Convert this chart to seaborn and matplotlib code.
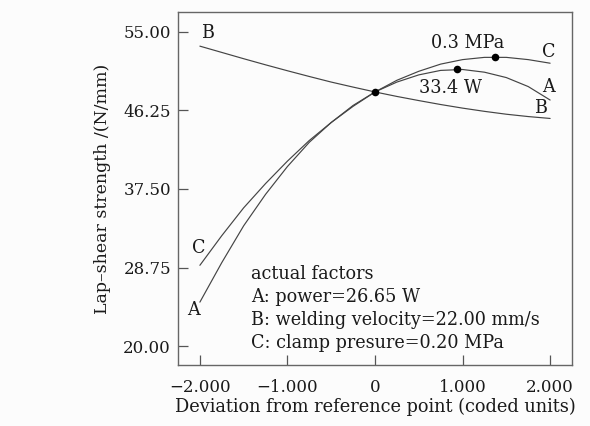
import numpy as np
import pandas as pd
import matplotlib
matplotlib.use("Agg")
import matplotlib.pyplot as plt
import seaborn as sns

# Data
x_coded = [-2.0, -1.75, -1.5, -1.25, -1.0, -0.75, -0.5, -0.25, 0.0,
           0.25, 0.5, 0.75, 1.0, 1.25, 1.5, 1.75, 2.0]
curve_A = [24.9, 29.3, 33.4, 36.9, 40.0, 42.7, 44.9, 46.8, 48.3,
           49.4, 50.2, 50.7, 50.8, 50.5, 49.9, 48.9, 47.4]
curve_B = [53.4, 52.7, 52.0, 51.32, 50.66, 50.02, 49.4, 48.84, 48.3,
           47.8, 47.34, 46.9, 46.5, 46.14, 45.82, 45.56, 45.35]
curve_C = [29.0, 32.3, 35.4, 38.1, 40.6, 42.9, 44.9, 46.7, 48.3,
           49.6, 50.6, 51.4, 51.9, 52.15, 52.15, 51.9, 51.5]

marker_x = [0.0, 0.94, 1.37]
marker_y = [48.3, 50.8, 52.2]

xtick_vals = [-2, -1, 0, 1, 2]
xtick_labels = ["\u22122.000", "\u22121.000", "0", "1.000", "2.000"]
ytick_vals = [20.0, 28.75, 37.5, 46.25, 55.0]
ytick_labels = ["20.00", "28.75", "37.50", "46.25", "55.00"]

factor_lines = ["actual factors",
                "A: power=26.65 W",
                "B: welding velocity=22.00 mm/s",
                "C: clamp presure=0.20 MPa"]

sns.set_style("ticks")
plt.rcParams["font.family"] = ["DejaVu Serif"]
plt.rcParams["mathtext.fontset"] = "dejavuserif"

df = pd.DataFrame({
    "x": x_coded * 3,
    "y": curve_A + curve_B + curve_C,
    "factor": ["A"] * len(x_coded) + ["B"] * len(x_coded) + ["C"] * len(x_coded),
})

fig = plt.figure(figsize=(5.9, 4.26), dpi=100, facecolor="#fcfcfc")
ax = fig.add_axes([0.3017, 0.1432, 0.9695 - 0.3017, 0.9718 - 0.1432])
ax.set_facecolor("#fcfcfc")

sns.lineplot(data=df, x="x", y="y", hue="factor",
             palette={"A": "#444444", "B": "#444444", "C": "#444444"},
             linewidth=0.85, legend=False, ax=ax, sort=True)
sns.scatterplot(x=marker_x, y=marker_y, color="black", s=30,
                edgecolor="black", linewidth=0, ax=ax, zorder=5)

ax.set_xlim(-2.25, 2.25)
ax.set_ylim(17.9, 57.2)
ax.set_xticks(xtick_vals)
ax.set_xticklabels(xtick_labels)
ax.set_yticks(ytick_vals)
ax.set_yticklabels(ytick_labels)
ax.tick_params(direction="in", length=7, width=0.9, colors="#555555",
               labelcolor="#1a1a1a", labelsize=12, pad=5)
ax.tick_params(axis="x", pad=10)
for s in ax.spines.values():
    s.set_color("#666666")
    s.set_linewidth(1.0)

ax.set_xlabel("Deviation from reference point (coded units)", fontsize=12.8,
              color="#1a1a1a", labelpad=1)
ax.set_ylabel("Lap\u2013shear strength /(N/mm)", fontsize=12.5,
              color="#1a1a1a", labelpad=9)

fs = 12.7
tc = "#1a1a1a"
ax.text(-1.91, 54.9, "B", fontsize=fs, color=tc, ha="center", va="center")
ax.text(1.06, 53.8, "0.3 MPa", fontsize=fs, color=tc, ha="center", va="center")
ax.text(1.98, 52.8, "C", fontsize=fs, color=tc, ha="center", va="center")
ax.text(1.98, 48.9, "A", fontsize=fs, color=tc, ha="center", va="center")
ax.text(1.89, 46.5, "B", fontsize=fs, color=tc, ha="center", va="center")
ax.text(0.86, 48.7, "33.4 W", fontsize=fs, color=tc, ha="center", va="center")
ax.text(-2.01, 30.9, "C", fontsize=fs, color=tc, ha="center", va="center")
ax.text(-2.07, 24.0, "A", fontsize=fs, color=tc, ha="center", va="center")

y0 = 55 - (274 - 32.3) / 8.96
dy = 23 / 8.96
x0 = (251 - 375) / 87.5
for i, line in enumerate(factor_lines):
    ax.text(x0, y0 - i * dy, line, fontsize=fs, color=tc, ha="left", va="center")

fig.savefig("out.png", dpi=100, facecolor=fig.get_facecolor())
